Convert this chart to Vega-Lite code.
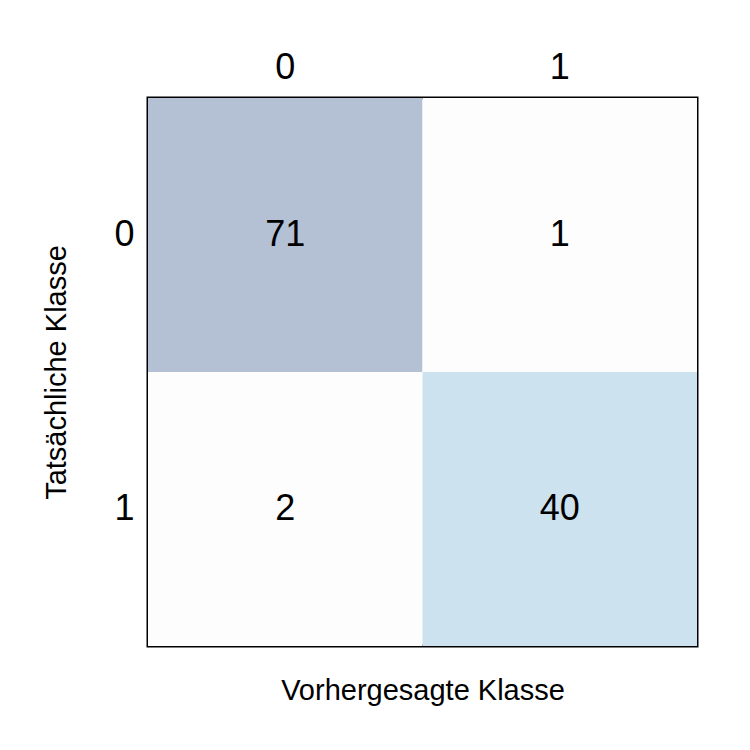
{
"$schema":"https://vega.github.io/schema/vega-lite/v6.json",
"width":549,"height":548,"autosize":"none",
"padding":{"left":148,"top":98,"right":53,"bottom":104},
"background":"white",
"config":{"view":{"stroke":"black","strokeWidth":3},"font":"Liberation Sans",
"axis":{"grid":false,"domain":false,"zindex":1,"tickColor":"black","tickWidth":1.5,"tickSize":-12,"labelFont":"Liberation Sans","labelFontSize":36,"labelColor":"black","titleFont":"Liberation Sans","titleFontWeight":"normal","titleFontSize":29,"titleColor":"black","labelAngle":0}},
"data":{"values":[
{"pred":"0","actual":"0","count":71},
{"pred":"1","actual":"0","count":1},
{"pred":"0","actual":"1","count":2},
{"pred":"1","actual":"1","count":40}]},
"layer":[
{"mark":{"type":"rect"},
"encoding":{
"x":{"field":"pred","type":"nominal","scale":{"paddingInner":0,"paddingOuter":0},"axis":{"orient":"top","title":null,"labelPadding":24}},
"y":{"field":"actual","type":"nominal","scale":{"paddingInner":0,"paddingOuter":0},"axis":{"orient":"left","title":"Tatsächliche Klasse","labelPadding":26,"titlePadding":42}},
"color":{"field":"count","type":"ordinal","scale":{"domain":[71,1,2,40],"range":["#b4c1d4","#fdfdfd","#fdfdfd","#cde2ef"]},"legend":null}}},
{"mark":{"type":"text","fontSize":36,"font":"Liberation Sans","color":"black"},
"encoding":{
"x":{"field":"pred","type":"nominal","axis":{"orient":"bottom","title":"Vorhergesagte Klasse","labels":false,"titlePadding":30}},
"y":{"field":"actual","type":"nominal","axis":{"orient":"right","title":null,"labels":false}},
"text":{"field":"count","type":"quantitative"}}}
],
"resolve":{"axis":{"x":"independent","y":"independent"}}
}
